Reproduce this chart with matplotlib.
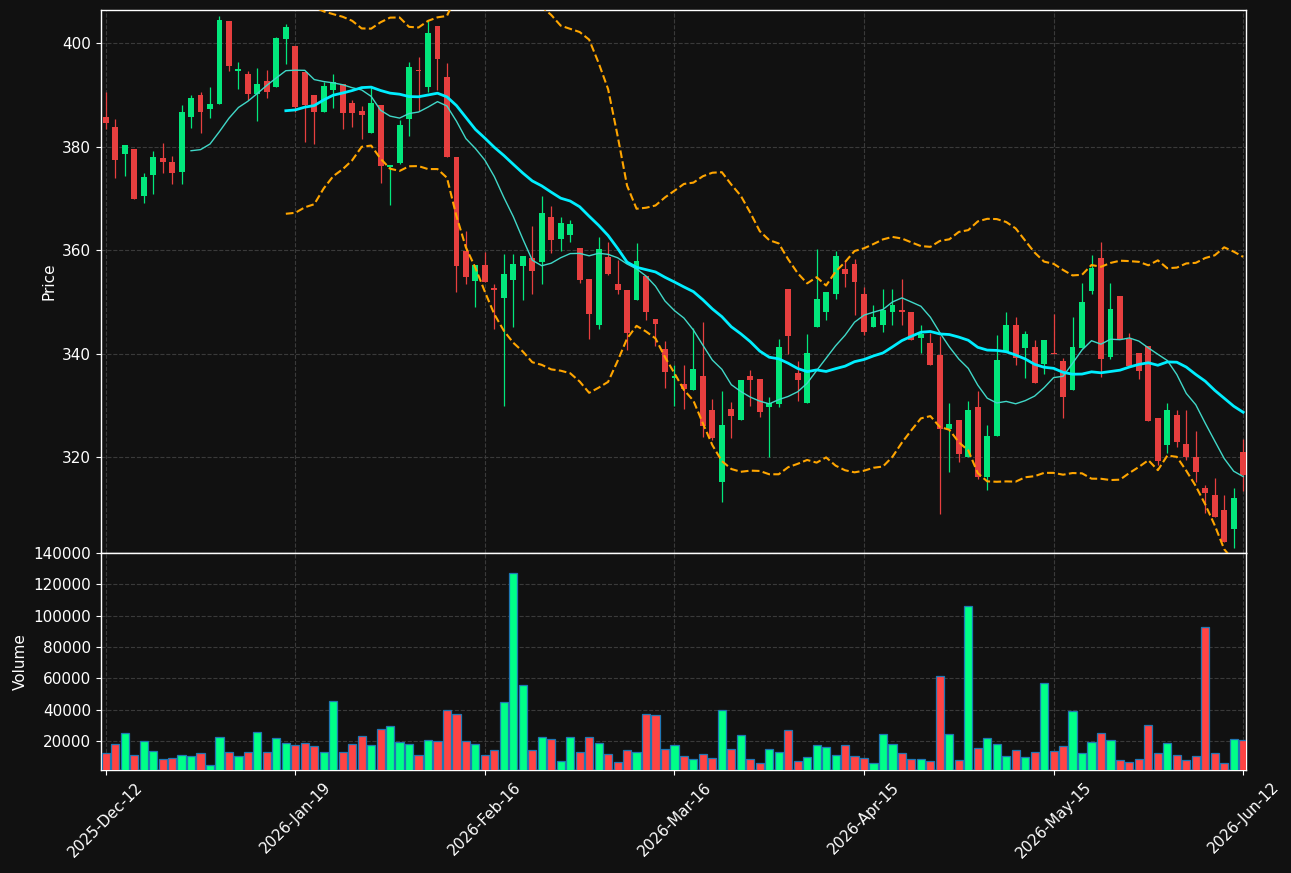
import numpy as np
import pandas as pd
import matplotlib
matplotlib.use("Agg")
import matplotlib.pyplot as plt
from matplotlib.ticker import FuncFormatter

# ---------------- data ----------------
opens = [385.8, 383.7, 378.5, 379.6, 370.4, 374.6, 377.8, 377.1, 375.0, 385.8,
         390.0, 387.2, 388.2, 404.3, 394.6, 394.1, 390.1, 392.6, 391.5, 400.7,
         399.5, 394.5, 389.9, 386.6, 390.9, 392.1, 388.5, 386.9, 382.7, 388.1,
         376.0, 376.9, 385.3, 394.8, 391.6, 403.4, 393.5, 378.0, 359.9, 354.1,
         357.2, 352.7, 350.7, 354.3, 357.0, 358.4, 357.6, 366.3, 362.1, 362.9,
         360.4, 354.5, 345.5, 358.7, 353.5, 352.3, 350.3, 355.0, 346.7, 340.8,
         335.2, 334.2, 333.0, 335.7, 329.0, 315.1, 329.2, 327.1, 335.7, 335.1,
         329.7, 330.2, 352.5, 336.3, 330.4, 345.1, 348.0, 351.5, 356.4, 357.3,
         351.6, 345.1, 345.5, 348.0, 348.5, 348.1, 343.1, 342.1, 339.8, 325.4,
         327.1, 320.0, 329.6, 316.1, 324.0, 340.4, 345.6, 341.0, 341.2, 337.9,
         340.2, 338.6, 332.9, 341.0, 352.1, 358.5, 339.4, 351.2, 342.8, 340.1,
         341.4, 327.5, 322.4, 328.2, 322.5, 320.0, 314.1, 312.6, 309.7, 306.0,
         321.0]
highs = [390.5, 385.3, 380.4, 379.6, 374.8, 379.1, 380.7, 378.2, 388.1, 389.9,
         390.5, 391.5, 405.3, 404.3, 396.3, 394.6, 395.2, 394.8, 401.1, 403.6,
         399.5, 394.5, 389.9, 392.5, 394.1, 392.1, 389.0, 387.8, 391.5, 388.1,
         376.4, 385.2, 396.3, 397.3, 404.4, 403.4, 396.2, 378.0, 363.7, 357.1,
         359.7, 353.5, 359.2, 359.2, 358.9, 364.7, 370.5, 368.5, 366.4, 365.8,
         360.4, 354.5, 362.5, 361.5, 358.0, 352.3, 361.4, 355.0, 346.7, 342.4,
         337.8, 337.8, 345.0, 346.1, 331.2, 332.8, 330.6, 334.8, 336.8, 335.1,
         331.6, 342.8, 352.5, 338.5, 343.7, 360.2, 351.9, 359.8, 357.8, 358.3,
         352.9, 349.4, 352.5, 352.5, 354.5, 348.1, 345.5, 344.0, 343.3, 330.4,
         327.1, 330.9, 332.8, 326.1, 343.6, 348.0, 347.1, 344.3, 342.7, 342.7,
         347.6, 339.1, 347.1, 353.7, 359.0, 361.6, 353.7, 351.2, 344.0, 340.1,
         341.4, 327.5, 330.4, 329.1, 329.1, 325.1, 314.6, 316.0, 312.6, 314.0,
         323.5]
lows = [383.4, 373.9, 374.4, 369.8, 369.1, 370.9, 374.9, 372.8, 372.8, 383.6,
        382.6, 385.5, 388.2, 394.6, 391.1, 389.0, 385.0, 389.4, 391.5, 396.0,
        386.6, 380.9, 380.5, 386.6, 387.5, 383.4, 383.8, 381.5, 382.7, 372.9,
        368.8, 376.6, 382.1, 386.8, 390.5, 390.9, 377.9, 351.9, 353.4, 349.0,
        353.9, 344.8, 329.9, 345.1, 350.4, 351.5, 353.5, 359.4, 359.8, 361.5,
        353.7, 342.9, 344.7, 355.1, 351.5, 340.7, 350.3, 346.5, 341.4, 333.4,
        329.9, 329.2, 333.0, 323.8, 323.2, 311.4, 323.7, 327.1, 329.9, 327.7,
        320.0, 329.7, 339.9, 330.8, 330.4, 345.1, 346.5, 350.6, 352.9, 347.5,
        343.5, 345.1, 344.1, 345.5, 345.5, 342.6, 340.1, 337.7, 308.9, 317.1,
        319.1, 320.0, 315.8, 313.6, 324.0, 340.4, 337.7, 335.3, 334.3, 336.1,
        340.0, 327.5, 332.9, 341.0, 351.5, 335.5, 339.0, 342.8, 337.6, 335.1,
        326.9, 318.5, 320.8, 322.0, 319.5, 315.1, 309.1, 308.5, 303.5, 302.4,
        313.4]
closes = [384.5, 377.4, 380.4, 369.8, 374.2, 378.0, 377.0, 374.8, 386.6, 389.3,
          386.6, 388.3, 404.5, 395.5, 395.0, 390.1, 392.1, 390.5, 400.9, 403.2,
          387.6, 388.0, 386.6, 391.7, 392.5, 386.4, 386.4, 386.2, 388.5, 376.2,
          376.4, 384.2, 395.4, 394.6, 402.0, 397.0, 377.9, 357.0, 354.7, 357.1,
          353.9, 352.3, 355.3, 357.4, 358.9, 355.9, 367.2, 361.9, 365.3, 365.1,
          354.3, 347.6, 360.2, 355.3, 352.3, 343.9, 357.8, 348.0, 345.7, 336.5,
          335.7, 333.2, 337.1, 325.9, 323.6, 326.1, 328.0, 334.8, 334.9, 328.7,
          330.5, 341.3, 343.3, 334.9, 340.1, 350.6, 351.9, 358.8, 355.3, 353.9,
          344.1, 347.1, 348.5, 349.4, 348.0, 342.6, 343.7, 337.7, 325.4, 326.4,
          320.6, 329.0, 316.2, 324.1, 338.8, 345.6, 339.1, 343.7, 334.3, 342.7,
          340.0, 331.6, 341.2, 350.0, 356.6, 338.9, 348.7, 342.8, 337.6, 336.6,
          326.9, 319.3, 329.1, 323.0, 320.0, 317.1, 313.0, 308.5, 303.6, 312.1,
          316.5]
volumes = [12300, 18100, 25100, 11000, 19800, 13600, 8500, 9100, 11000, 10200,
           12300, 4400, 22600, 13000, 10200, 13000, 25800, 13000, 21900, 18700,
           17400, 18700, 16800, 13000, 45600, 13000, 18100, 23200, 17400, 27700,
           29600, 19400, 18100, 11000, 20600, 20000, 39800, 37300, 20000, 18100,
           11000, 14200, 44900, 127500, 55800, 14200, 22600, 21300, 7200, 22600,
           13000, 22600, 18700, 11700, 6600, 14200, 13000, 37300, 36600, 14900,
           17400, 10400, 8500, 11700, 9100, 39800, 14900, 23800, 8500, 5900,
           14900, 13000, 27000, 7200, 9800, 17400, 16200, 11000, 17400, 10400,
           9100, 5900, 24500, 18100, 12300, 8500, 8500, 7200, 61600, 24500,
           7800, 106400, 15500, 21900, 18100, 10400, 14200, 9800, 13000, 57100,
           13600, 16800, 39200, 12300, 19400, 25100, 20600, 7800, 6600, 8500,
           30200, 12300, 18700, 11000, 7800, 10400, 92900, 12300, 5900, 21300,
           20600]
tick_labels = ['2025-Dec-12', '2026-Jan-19', '2026-Feb-16', '2026-Mar-16',
               '2026-Apr-15', '2026-May-15', '2026-Jun-12']
tick_step = 20

# ---------------- derived series ----------------
df = pd.DataFrame({'Open': opens, 'High': highs, 'Low': lows,
                   'Close': closes, 'Volume': volumes})
ma10 = df['Close'].rolling(10).mean()
ma20 = df['Close'].rolling(20).mean()
sd20 = df['Close'].rolling(20).std()
bb_up = ma20 + 2 * sd20
bb_lo = ma20 - 2 * sd20
x = np.arange(len(df))
up = df['Close'] >= df['Open']

# ---------------- style ----------------
BG = '#111111'
FG = '#ffffff'
C_UP, C_DN = '#02e77c', '#e73f3f'
V_UP, V_DN = '#00ff88', '#ff4444'
GRID = '#3a3a3a'
FS = 11

fig = plt.figure(figsize=(12.91, 8.73), dpi=100, facecolor=BG)
W, H = 1291, 873
ax = fig.add_axes([101 / W, 1 - 553 / H, 1145 / W, 543 / H])
axv = fig.add_axes([101 / W, 1 - 770 / H, 1145 / W, 217 / H], sharex=ax)

for a in (ax, axv):
    a.set_facecolor(BG)
    for s in a.spines.values():
        s.set_color(FG)
        s.set_linewidth(1.0)
    a.tick_params(colors=FG, labelsize=FS, labelcolor=FG)
    a.grid(True, linestyle='--', color=GRID, linewidth=0.8)
    a.set_axisbelow(True)

# candles
wcol = np.where(up, C_UP, C_DN)
ax.vlines(x, df['Low'], df['High'], colors=wcol, linewidth=0.9, zorder=2)
body_h = np.maximum((df['Close'] - df['Open']).abs(), 0.12)
ax.bar(x, body_h, bottom=np.minimum(df['Open'], df['Close']), width=0.62,
       color=wcol, linewidth=0, zorder=3)

# moving averages & bands
ax.plot(x, ma10, color='#40d8c8', linewidth=1.0, zorder=4)
ax.plot(x, ma20, color='#00eeff', linewidth=2.0, zorder=4)
ax.plot(x, bb_up, color='#ffa500', linewidth=1.5, linestyle='--', zorder=4)
ax.plot(x, bb_lo, color='#ffa500', linewidth=1.5, linestyle='--', zorder=4)

ax.set_ylim(301.45, 406.4)
ax.set_yticks([320, 340, 360, 380, 400])
ax.set_ylabel('Price', color=FG, fontsize=FS)
ax.tick_params(axis='x', labelbottom=False)

# volume
vcol = np.where(up, V_UP, V_DN)
axv.bar(x, df['Volume'], width=0.86, color=vcol, edgecolor='#1f77b4',
        linewidth=0.9, zorder=3)
axv.set_ylim(1400, 140000)
axv.set_yticks(np.arange(20000, 140001, 20000))
axv.yaxis.set_major_formatter(FuncFormatter(lambda v, p: f'{int(v)}'))
axv.set_ylabel('Volume', color=FG, fontsize=FS)

tick_pos = np.arange(0, len(df), tick_step)
axv.set_xticks(tick_pos)
axv.set_xticklabels(tick_labels, rotation=45, ha='center')
axv.set_xlim(-0.5, 120.3)

fig.savefig('out.png', dpi=100, facecolor=BG)
